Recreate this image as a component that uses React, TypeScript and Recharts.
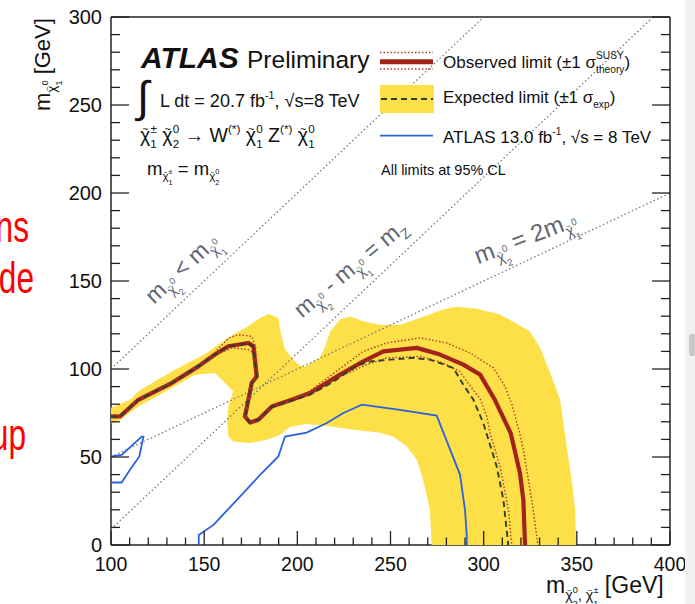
import React from "react";
import { ScatterChart, Scatter, XAxis, YAxis } from "recharts";

type Pt = [number, number];
type Seg = [string, number, number, number?];

const xTicks = [100, 110, 120, 130, 140, 150, 160, 170, 180, 190, 200, 210, 220, 230, 240, 250, 260, 270, 280, 290, 300, 310, 320, 330, 340, 350, 360, 370, 380, 390, 400];
const yTicks = [0, 10, 20, 30, 40, 50, 60, 70, 80, 90, 100, 110, 120, 130, 140, 150, 160, 170, 180, 190, 200, 210, 220, 230, 240, 250, 260, 270, 280, 290, 300];

// expected limit +-1 sigma band, traced as one closed outline
const expectedBand: Pt[] = [
  [100, 69], [100, 78], [110.2, 82.5], [114.7, 87.3], [132.6, 98.6], [150.5, 108.5], [164.8, 119], [173.7, 124.3],
  [180, 129], [184.4, 131.2], [189.8, 129], [190.7, 122.4], [193.4, 111], [198.8, 104.3], [201.4, 101.9], [204.1, 101.3],
  [212.2, 106.4], [214.9, 112.7], [217.6, 121.2], [222.9, 128.1], [228.3, 129.8], [236.3, 126.9], [244.4, 125.2],
  [255.1, 125.2], [265.9, 129], [278.2, 133.8], [285.7, 135.3], [296.5, 134.2], [308.8, 130.9], [315.8, 126.9],
  [324.9, 121.2], [330.3, 112.1], [335.6, 97.9], [341, 82.5], [344.8, 54.1], [347.4, 35.3], [349.1, 19.9], [349.6, 0],
  [272, 0], [271.2, 19.9], [267.5, 37], [264.1, 48.4], [258.7, 56], [251.4, 61.6], [244.4, 63.8], [239, 64.5],
  [229.9, 65.5], [219.2, 67.2], [205, 68.7], [196.1, 67.2], [190.7, 62.6], [183.6, 59.8], [174.6, 57.9], [165.6, 58.8],
  [163, 61.6], [162.3, 71.2], [163, 78.7], [165.6, 87.3], [160.3, 93], [155.8, 97.7], [145.1, 96.8], [132.6, 89.2],
  [114.7, 78.7], [104.8, 71],
];

const observed: Pt[] = [
  [100, 73], [104.8, 73], [114.7, 82.5], [132.6, 92], [146.9, 101.5], [155.8, 108.2], [163, 112.9], [173.7, 114.8],
  [176.4, 112.9], [178.2, 95.8], [175.5, 92], [173.7, 82.5], [171.9, 73], [174.6, 69.6], [179.1, 71.2], [186.3, 78.7],
  [197, 82.5], [206.8, 86.4], [222.9, 96.8], [235.4, 104.3], [246.2, 110], [264.1, 112], [276.6, 108.2], [289.1, 102.5],
  [298.1, 96.8], [306, 82.5], [314.5, 63.6], [319.5, 40.8], [321.3, 25.6], [322.2, 0],
];

const theoryUp: Pt[] = [
  [100, 74], [104.8, 74], [114.7, 83.5], [132.6, 93], [146.9, 102.5], [155.8, 109.5], [163, 117.5], [168.3, 119.5],
  [175.5, 118.6], [177.5, 113], [178.9, 96], [176, 92], [174.2, 82.5], [172.4, 73], [174.6, 68.8], [179.4, 70.6],
  [186.6, 78], [197, 82.5], [206.8, 87.5], [219.2, 97.3], [235.4, 110], [248, 114.8], [265.9, 117.7], [280.2, 114.8],
  [292.7, 109.1], [305.2, 100.6], [311.5, 90], [315.1, 80], [319, 65], [321.3, 54.1], [325.8, 25.6], [328.5, 5], [329, 0],
];

const theoryDown: Pt[] = [
  [100, 72.5], [104.8, 72.5], [114.7, 82], [132.6, 91.5], [146.9, 101], [155.8, 107.8], [164.8, 112], [173.7, 111],
  [176.4, 109.1], [177.6, 95.5], [175, 92], [173.4, 82.5], [171.6, 73], [174.6, 70], [178.9, 71.6], [186, 78.5],
  [197, 82], [206.8, 85.4], [222.9, 95.6], [237.3, 102.5], [248, 106.3], [265.9, 107.2], [278.4, 103.4], [287.3, 98.6],
  [290.9, 93], [298.1, 83], [301.7, 73], [303.4, 63.6], [308.8, 44.6], [313.3, 19.9], [315.1, 0],
];

const expected: Pt[] = [
  [100, 73], [104.8, 73], [114.7, 82.5], [132.6, 92], [146.9, 101.5], [155.8, 108.2], [163, 112.9], [173.7, 114.5],
  [176.4, 112.5], [178.2, 95.8], [175.5, 92], [173.7, 82.5], [171.9, 73], [174.6, 69.6], [179.1, 71.2], [186.3, 78.5],
  [197, 82], [206.8, 85.5], [219, 92.5], [231.9, 102], [239, 104.3], [249.8, 105.3], [262.3, 106.3], [271.2, 105.3],
  [283.7, 100.6], [289.1, 91], [294.5, 82.5], [299.8, 69.3], [307, 44.6], [310.6, 25.6], [313.2, 0],
];

// ATLAS 13.0 fb-1 result, two contours
const atlas13a: Pt[] = [
  [100, 50.3], [105.7, 51.2], [116.5, 61.6], [117.4, 61.6], [115.2, 50.3], [110.2, 42.7], [105.7, 35.5], [100, 35.5],
];
const atlas13b: Pt[] = [
  [147.1, 0], [147.1, 5.7], [155, 11.4], [169.2, 27.5], [180, 39.8], [189.8, 50.3], [193.4, 61.6], [205, 63.9],
  [215.8, 69.3], [224.7, 75], [234.7, 79.7], [255.1, 76.8], [274.8, 73.5], [287.3, 40], [290, 19.9], [290.9, 6], [290.9, 0],
];

// kinematic lines
const lineKin: Pt[] = [[100, 100], [300, 300]];
const lineZ: Pt[] = [[100, 9], [391, 300]];
const lineHalf: Pt[] = [[100, 50], [400, 200]];

const FONT = "'Liberation Sans', Arial, Helvetica, sans-serif";
const AX = "#222";
const YELLOW = "#FDDF47";
const RED = "#A2221C";
const DOT_RED = "#B4382A";
const DASH = "#2F3F35";
const BLUE = "#2A62E0";
const GREY_LINE = "#777";
const LABEL_GREY = "#5D6570";

const pts = (a: Pt[]) => a.map(([x, y]) => ({ x, y }));
const noDot = () => <g />;

function BottomTick({ x, y, payload }: any) {
  const major = payload.value % 50 === 0;
  return (
    <g>
      <line x1={x} x2={x} y1={y} y2={y - (major ? 14 : 7.5)} stroke={AX} strokeWidth={1.3} />
      {major && (
        <text x={x} y={y + 26} textAnchor="middle" fontSize={19.5} fontFamily={FONT} fill="#111">
          {payload.value}
        </text>
      )}
    </g>
  );
}

function TopTick({ x, y, payload }: any) {
  const major = payload.value % 50 === 0;
  return <line x1={x} x2={x} y1={y} y2={y + (major ? 15 : 8)} stroke={AX} strokeWidth={1.3} />;
}

function LeftTick({ x, y, payload }: any) {
  const major = payload.value % 50 === 0;
  return (
    <g>
      <line x1={x} x2={x + (major ? 18 : 9)} y1={y} y2={y} stroke={AX} strokeWidth={1.3} />
      {major && (
        <text x={x - 9} y={y + 7} textAnchor="end" fontSize={20} fontFamily={FONT} fill="#111">
          {payload.value}
        </text>
      )}
    </g>
  );
}

function RightTick({ x, y, payload }: any) {
  const major = payload.value % 50 === 0;
  return <line x1={x} x2={x - (major ? 18 : 9)} y1={y} y2={y} stroke={AX} strokeWidth={1.3} />;
}

function Rich({ x, y, size, segs, fill = "#111", anchor = "start", angle = 0 }: any) {
  let prev = 0;
  return (
    <text
      x={x}
      y={y}
      fontSize={size}
      fill={fill}
      fontFamily={FONT}
      textAnchor={anchor}
      style={{ whiteSpace: "pre" }}
      transform={angle ? `rotate(${angle} ${x} ${y})` : undefined}
    >
      {(segs as Seg[]).map(([t, s, off, dx], i) => {
        const dy = (off - prev) * size;
        prev = off;
        return (
          <tspan key={i} fontSize={s * size} dy={dy} dx={dx ? dx * size : 0}>
            {t}
          </tspan>
        );
      })}
    </text>
  );
}

// chi with a tilde on top, a superscript and a subscript stacked after it
const chiSegs = (s: number, off: number, sup: string, sub: string, ss: number, supOff: number, subOff: number): Seg[] => [
  ["χ", s, off],
  ["~", s * 0.55, off - s * 0.46, -s * 0.41],
  [sup, ss, supOff, s * 0.1],
  [sub, ss, subOff, -ss * 0.56 * sup.length],
];
const mChi = (sup: string, sub: string): Seg[] => [["m", 1, 0], ...chiSegs(0.62, 0.28, sup, sub, 0.4, -0.08, 0.55)];
const bigChi = (sup: string, sub: string): Seg[] => chiSegs(1, 0, sup, sub, 0.6, -0.45, 0.3);

function Overlay() {
  return (
    <svg width={695} height={604} style={{ position: "absolute", left: 0, top: 0, pointerEvents: "none" }}>
      {/* slide fragments */}
      <g fill="#FF0000" fontFamily={FONT} fontSize={44}>
        <text textAnchor="end" transform="translate(29 242) scale(0.72 1)">ns</text>
        <text textAnchor="end" transform="translate(34 293) scale(0.72 1)">de</text>
        <text textAnchor="end" transform="translate(26 450) scale(0.72 1)">up</text>
      </g>
      <rect x={685} y={0} width={10} height={604} fill="#F1F1F1" />
      <rect x={689} y={334} width={6} height={22} rx={2} fill="#C9C9C9" />

      {/* ATLAS block */}
      <text x={141} y={68} fontSize={30} fontWeight="bold" fontStyle="italic" fontFamily={FONT} fill="#111">ATLAS</text>
      <text x={247} y={68} fontSize={24.5} fontFamily={FONT} fill="#111">Preliminary</text>
      <text x={137} y={112} fontSize={44} fontFamily={FONT} fill="#111">∫</text>
      <Rich x={160} y={107} size={18} segs={[["L dt = 20.7 fb", 1, 0], ["-1", 0.6, -0.45], [", √s=8 TeV", 1, 0]]} />
      <Rich
        x={140}
        y={142}
        size={19.5}
        segs={[
          ...bigChi("±", "1"), [" ", 1, 0], ...bigChi("0", "2"), [" → W", 1, 0], ["(*)", 0.6, -0.45], [" ", 1, 0],
          ...bigChi("0", "1"), [" Z", 1, 0], ["(*)", 0.6, -0.45], [" ", 1, 0], ...bigChi("0", "1"),
        ]}
      />
      <Rich x={147} y={175} size={18.5} segs={[...mChi("±", "1"), [" = ", 1, 0], ...mChi("0", "2")]} />

      {/* legend */}
      <line x1={380} x2={433} y1={52.5} y2={52.5} stroke={DOT_RED} strokeWidth={1.4} strokeDasharray="1.5 2" />
      <line x1={380} x2={433} y1={61.7} y2={61.7} stroke={RED} strokeWidth={5} />
      <line x1={380} x2={433} y1={69} y2={69} stroke={DOT_RED} strokeWidth={1.4} strokeDasharray="1.5 2" />
      <rect x={380} y={85} width={54} height={28} fill={YELLOW} />
      <line x1={381} x2={433} y1={99} y2={99} stroke={DASH} strokeWidth={1.8} strokeDasharray="6 4" />
      <line x1={380} x2={433} y1={135.7} y2={135.7} stroke={BLUE} strokeWidth={1.8} />
      <Rich
        x={443}
        y={68}
        size={17}
        segs={[["Observed limit (±1 σ", 1, 0], ["SUSY", 0.6, -0.55], ["theory", 0.6, 0.3, -1.63], [")", 1, 0]]}
      />
      <Rich x={443} y={103} size={17} segs={[["Expected limit (±1 σ", 1, 0], ["exp", 0.6, 0.3], [")", 1, 0]]} />
      <Rich x={443} y={143} size={17} segs={[["ATLAS 13.0 fb", 1, 0], ["-1", 0.6, -0.45], [", √s = 8 TeV", 1, 0]]} />
      <text x={381} y={175} fontSize={14.5} fontFamily={FONT} fill="#111">All limits at 95% CL</text>

      {/* kinematic line labels */}
      <Rich x={187} y={274} size={23} fill={LABEL_GREY} anchor="middle" angle={-43} segs={[...mChi("0", "2"), [" < ", 1, 0], ...mChi("0", "1")]} />
      <Rich
        x={355}
        y={274}
        size={23}
        fill={LABEL_GREY}
        anchor="middle"
        angle={-40}
        segs={[...mChi("0", "2"), [" - ", 1, 0], ...mChi("0", "1"), [" = m", 1, 0], ["Z", 0.62, 0.28]]}
      />
      <Rich x={528} y={245} size={24} fill={LABEL_GREY} anchor="middle" angle={-21} segs={[...mChi("0", "2"), [" = 2", 1, 0], ...mChi("0", "1")]} />

      {/* axis titles */}
      <Rich x={50} y={111} size={22} angle={-90} segs={[...mChi("0", "1"), [" [GeV]", 1, 0]]} />
      <Rich
        x={546}
        y={593}
        size={23}
        segs={[
          ["m", 1, 0], ...chiSegs(0.62, 0.3, "0", "2", 0.4, 0.02, 0.62), [", ", 0.62, 0.3],
          ...chiSegs(0.62, 0.3, "±", "1", 0.4, 0.02, 0.62), [" [GeV]", 1, 0],
        ]}
      />
    </svg>
  );
}

export default function App() {
  const axisLine = { stroke: AX, strokeWidth: 1.5 };
  return (
    <div style={{ position: "absolute", left: 0, top: 0, width: 695, height: 604, overflow: "hidden", background: "#fff" }}>
      <ScatterChart width={695} height={604} margin={{ top: 12, right: 20, bottom: 19, left: 51 }}>
        <XAxis
          xAxisId={0}
          type="number"
          dataKey="x"
          domain={[100, 400]}
          ticks={xTicks}
          interval={0}
          tickSize={0}
          tickMargin={0}
          tickLine={false}
          axisLine={axisLine}
          tick={(p: any) => <BottomTick {...p} />}
          height={40}
          allowDataOverflow
        />
        <XAxis
          xAxisId="top"
          orientation="top"
          type="number"
          domain={[100, 400]}
          ticks={xTicks}
          interval={0}
          tickSize={0}
          tickMargin={0}
          tickLine={false}
          axisLine={axisLine}
          tick={(p: any) => <TopTick {...p} />}
          height={5}
          allowDataOverflow
        />
        <YAxis
          yAxisId={0}
          type="number"
          dataKey="y"
          domain={[0, 300]}
          ticks={yTicks}
          interval={0}
          tickSize={0}
          tickMargin={0}
          tickLine={false}
          axisLine={axisLine}
          tick={(p: any) => <LeftTick {...p} />}
          width={60}
          allowDataOverflow
        />
        <YAxis
          yAxisId="right"
          orientation="right"
          type="number"
          domain={[0, 300]}
          ticks={yTicks}
          interval={0}
          tickSize={0}
          tickMargin={0}
          tickLine={false}
          axisLine={axisLine}
          tick={(p: any) => <RightTick {...p} />}
          width={5}
          allowDataOverflow
        />
        <Scatter data={pts(expectedBand)} fill={YELLOW} line={{ fill: YELLOW, stroke: "none" }} lineType="joint" shape={noDot} isAnimationActive={false} />
        {[lineKin, lineZ, lineHalf].map((l, i) => (
          <Scatter
            key={i}
            data={pts(l)}
            fill={GREY_LINE}
            line={{ stroke: GREY_LINE, strokeWidth: 1.3, strokeDasharray: "1.5 2.5" }}
            lineType="joint"
            shape={noDot}
            isAnimationActive={false}
          />
        ))}
        <Scatter data={pts(atlas13a)} fill={BLUE} line={{ stroke: BLUE, strokeWidth: 1.8 }} lineType="joint" shape={noDot} isAnimationActive={false} />
        <Scatter data={pts(atlas13b)} fill={BLUE} line={{ stroke: BLUE, strokeWidth: 1.8 }} lineType="joint" shape={noDot} isAnimationActive={false} />
        <Scatter data={pts(observed)} fill={RED} line={{ stroke: RED, strokeWidth: 4.2, strokeLinejoin: "round" }} lineType="joint" shape={noDot} isAnimationActive={false} />
        <Scatter data={pts(theoryUp)} fill={DOT_RED} line={{ stroke: DOT_RED, strokeWidth: 1.4, strokeDasharray: "1.5 2" }} lineType="joint" shape={noDot} isAnimationActive={false} />
        <Scatter data={pts(theoryDown)} fill={DOT_RED} line={{ stroke: DOT_RED, strokeWidth: 1.4, strokeDasharray: "1.5 2" }} lineType="joint" shape={noDot} isAnimationActive={false} />
        <Scatter data={pts(expected)} fill={DASH} line={{ stroke: DASH, strokeWidth: 1.9, strokeDasharray: "6 4" }} lineType="joint" shape={noDot} isAnimationActive={false} />
      </ScatterChart>
      <Overlay />
    </div>
  );
}
